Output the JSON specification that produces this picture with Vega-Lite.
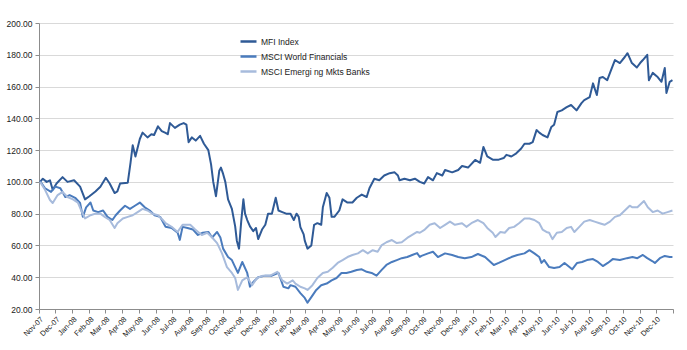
{
"$schema": "https://vega.github.io/schema/vega-lite/v6.json",
"width": 634, "height": 286,
"autosize": {"type": "none"},
"padding": {"left": 39, "top": 23, "right": 14, "bottom": 41},
"background": "white",
"config": {"view": {"stroke": null}, "font": "Liberation Sans"},
"data": {"values": [
{"s":"MFI Index","d":"2007-11-03","v":100},{"s":"MFI Index","d":"2007-11-08","v":102},{"s":"MFI Index","d":"2007-11-15","v":100},{"s":"MFI Index","d":"2007-11-21","v":101},{"s":"MFI Index","d":"2007-11-26","v":95},{"s":"MFI Index","d":"2007-12-03","v":99},{"s":"MFI Index","d":"2007-12-14","v":103},{"s":"MFI Index","d":"2007-12-23","v":100},{"s":"MFI Index","d":"2008-01-04","v":101},{"s":"MFI Index","d":"2008-01-15","v":97},{"s":"MFI Index","d":"2008-01-24","v":89},{"s":"MFI Index","d":"2008-02-01","v":91},{"s":"MFI Index","d":"2008-02-12","v":94},{"s":"MFI Index","d":"2008-02-21","v":97},{"s":"MFI Index","d":"2008-03-02","v":102.6},{"s":"MFI Index","d":"2008-03-09","v":99},{"s":"MFI Index","d":"2008-03-18","v":93},{"s":"MFI Index","d":"2008-03-23","v":94},{"s":"MFI Index","d":"2008-03-28","v":99},{"s":"MFI Index","d":"2008-04-11","v":99.5},{"s":"MFI Index","d":"2008-04-16","v":112},{"s":"MFI Index","d":"2008-04-20","v":123},{"s":"MFI Index","d":"2008-04-25","v":116},{"s":"MFI Index","d":"2008-05-03","v":127},{"s":"MFI Index","d":"2008-05-08","v":131},{"s":"MFI Index","d":"2008-05-17","v":128},{"s":"MFI Index","d":"2008-05-24","v":130},{"s":"MFI Index","d":"2008-05-29","v":129.5},{"s":"MFI Index","d":"2008-06-05","v":135},{"s":"MFI Index","d":"2008-06-12","v":132},{"s":"MFI Index","d":"2008-06-18","v":131},{"s":"MFI Index","d":"2008-06-23","v":130},{"s":"MFI Index","d":"2008-06-27","v":137},{"s":"MFI Index","d":"2008-07-06","v":134},{"s":"MFI Index","d":"2008-07-15","v":136},{"s":"MFI Index","d":"2008-07-22","v":137},{"s":"MFI Index","d":"2008-07-27","v":136},{"s":"MFI Index","d":"2008-07-31","v":125},{"s":"MFI Index","d":"2008-08-06","v":128},{"s":"MFI Index","d":"2008-08-13","v":126},{"s":"MFI Index","d":"2008-08-21","v":129},{"s":"MFI Index","d":"2008-08-28","v":124},{"s":"MFI Index","d":"2008-09-05","v":120},{"s":"MFI Index","d":"2008-09-10","v":111},{"s":"MFI Index","d":"2008-09-14","v":100},{"s":"MFI Index","d":"2008-09-19","v":91},{"s":"MFI Index","d":"2008-09-25","v":107},{"s":"MFI Index","d":"2008-09-28","v":109},{"s":"MFI Index","d":"2008-10-02","v":105},{"s":"MFI Index","d":"2008-10-06","v":100},{"s":"MFI Index","d":"2008-10-11","v":89},{"s":"MFI Index","d":"2008-10-18","v":83},{"s":"MFI Index","d":"2008-10-24","v":72},{"s":"MFI Index","d":"2008-10-27","v":63},{"s":"MFI Index","d":"2008-10-31","v":58},{"s":"MFI Index","d":"2008-11-04","v":75},{"s":"MFI Index","d":"2008-11-08","v":89},{"s":"MFI Index","d":"2008-11-11","v":80},{"s":"MFI Index","d":"2008-11-15","v":76},{"s":"MFI Index","d":"2008-11-20","v":72},{"s":"MFI Index","d":"2008-11-26","v":69},{"s":"MFI Index","d":"2008-12-01","v":71},{"s":"MFI Index","d":"2008-12-05","v":64},{"s":"MFI Index","d":"2008-12-12","v":70},{"s":"MFI Index","d":"2008-12-18","v":73},{"s":"MFI Index","d":"2008-12-23","v":80},{"s":"MFI Index","d":"2008-12-30","v":80},{"s":"MFI Index","d":"2009-01-06","v":90},{"s":"MFI Index","d":"2009-01-11","v":82},{"s":"MFI Index","d":"2009-01-18","v":81},{"s":"MFI Index","d":"2009-01-25","v":80},{"s":"MFI Index","d":"2009-02-02","v":80},{"s":"MFI Index","d":"2009-02-08","v":76},{"s":"MFI Index","d":"2009-02-13","v":80},{"s":"MFI Index","d":"2009-02-17","v":78},{"s":"MFI Index","d":"2009-02-20","v":71.5},{"s":"MFI Index","d":"2009-02-26","v":67},{"s":"MFI Index","d":"2009-02-28","v":63},{"s":"MFI Index","d":"2009-03-05","v":58},{"s":"MFI Index","d":"2009-03-12","v":60},{"s":"MFI Index","d":"2009-03-17","v":73},{"s":"MFI Index","d":"2009-03-23","v":74},{"s":"MFI Index","d":"2009-03-30","v":73},{"s":"MFI Index","d":"2009-04-02","v":84},{"s":"MFI Index","d":"2009-04-09","v":93},{"s":"MFI Index","d":"2009-04-14","v":90},{"s":"MFI Index","d":"2009-04-18","v":78},{"s":"MFI Index","d":"2009-04-23","v":78},{"s":"MFI Index","d":"2009-05-02","v":82},{"s":"MFI Index","d":"2009-05-08","v":89},{"s":"MFI Index","d":"2009-05-17","v":87},{"s":"MFI Index","d":"2009-05-26","v":87},{"s":"MFI Index","d":"2009-06-03","v":90},{"s":"MFI Index","d":"2009-06-12","v":92},{"s":"MFI Index","d":"2009-06-21","v":90.5},{"s":"MFI Index","d":"2009-06-26","v":96},{"s":"MFI Index","d":"2009-07-05","v":102},{"s":"MFI Index","d":"2009-07-14","v":101},{"s":"MFI Index","d":"2009-07-23","v":104},{"s":"MFI Index","d":"2009-08-02","v":105.5},{"s":"MFI Index","d":"2009-08-11","v":106},{"s":"MFI Index","d":"2009-08-17","v":104},{"s":"MFI Index","d":"2009-08-20","v":101},{"s":"MFI Index","d":"2009-08-29","v":102},{"s":"MFI Index","d":"2009-09-08","v":101},{"s":"MFI Index","d":"2009-09-17","v":102},{"s":"MFI Index","d":"2009-09-26","v":100},{"s":"MFI Index","d":"2009-10-04","v":99},{"s":"MFI Index","d":"2009-10-11","v":103},{"s":"MFI Index","d":"2009-10-20","v":101},{"s":"MFI Index","d":"2009-10-27","v":105.5},{"s":"MFI Index","d":"2009-11-06","v":104},{"s":"MFI Index","d":"2009-11-11","v":107.5},{"s":"MFI Index","d":"2009-11-24","v":106},{"s":"MFI Index","d":"2009-12-05","v":107.5},{"s":"MFI Index","d":"2009-12-12","v":110},{"s":"MFI Index","d":"2009-12-23","v":109},{"s":"MFI Index","d":"2010-01-05","v":113.8},{"s":"MFI Index","d":"2010-01-14","v":112},{"s":"MFI Index","d":"2010-01-20","v":122},{"s":"MFI Index","d":"2010-01-27","v":116},{"s":"MFI Index","d":"2010-02-06","v":114},{"s":"MFI Index","d":"2010-02-17","v":114},{"s":"MFI Index","d":"2010-02-26","v":115},{"s":"MFI Index","d":"2010-03-03","v":117},{"s":"MFI Index","d":"2010-03-12","v":116},{"s":"MFI Index","d":"2010-03-21","v":118},{"s":"MFI Index","d":"2010-03-30","v":121},{"s":"MFI Index","d":"2010-04-05","v":124},{"s":"MFI Index","d":"2010-04-14","v":124},{"s":"MFI Index","d":"2010-04-20","v":125},{"s":"MFI Index","d":"2010-04-27","v":132.6},{"s":"MFI Index","d":"2010-05-02","v":131},{"s":"MFI Index","d":"2010-05-08","v":129.5},{"s":"MFI Index","d":"2010-05-17","v":128},{"s":"MFI Index","d":"2010-05-24","v":134.6},{"s":"MFI Index","d":"2010-05-29","v":136},{"s":"MFI Index","d":"2010-06-04","v":144},{"s":"MFI Index","d":"2010-06-12","v":145},{"s":"MFI Index","d":"2010-06-21","v":147},{"s":"MFI Index","d":"2010-06-29","v":148.4},{"s":"MFI Index","d":"2010-07-09","v":145},{"s":"MFI Index","d":"2010-07-18","v":149.6},{"s":"MFI Index","d":"2010-07-23","v":151.5},{"s":"MFI Index","d":"2010-08-02","v":153.4},{"s":"MFI Index","d":"2010-08-08","v":162},{"s":"MFI Index","d":"2010-08-15","v":154.7},{"s":"MFI Index","d":"2010-08-20","v":165.4},{"s":"MFI Index","d":"2010-08-26","v":166},{"s":"MFI Index","d":"2010-09-03","v":164},{"s":"MFI Index","d":"2010-09-08","v":168.6},{"s":"MFI Index","d":"2010-09-17","v":176.7},{"s":"MFI Index","d":"2010-09-26","v":174.8},{"s":"MFI Index","d":"2010-10-05","v":178.6},{"s":"MFI Index","d":"2010-10-10","v":181},{"s":"MFI Index","d":"2010-10-18","v":174.8},{"s":"MFI Index","d":"2010-10-27","v":172},{"s":"MFI Index","d":"2010-11-02","v":174.8},{"s":"MFI Index","d":"2010-11-07","v":176.7},{"s":"MFI Index","d":"2010-11-15","v":180},{"s":"MFI Index","d":"2010-11-18","v":164},{"s":"MFI Index","d":"2010-11-25","v":168.6},{"s":"MFI Index","d":"2010-12-04","v":166},{"s":"MFI Index","d":"2010-12-11","v":163},{"s":"MFI Index","d":"2010-12-17","v":171.7},{"s":"MFI Index","d":"2010-12-20","v":156},{"s":"MFI Index","d":"2010-12-26","v":163},{"s":"MFI Index","d":"2010-12-31","v":164},
{"s":"MSCI World Financials","d":"2007-11-03","v":100.5},{"s":"MSCI World Financials","d":"2007-11-12","v":96},{"s":"MSCI World Financials","d":"2007-11-23","v":93.7},{"s":"MSCI World Financials","d":"2007-12-01","v":97},{"s":"MSCI World Financials","d":"2007-12-10","v":96},{"s":"MSCI World Financials","d":"2007-12-19","v":90.5},{"s":"MSCI World Financials","d":"2007-12-27","v":91.7},{"s":"MSCI World Financials","d":"2008-01-06","v":90},{"s":"MSCI World Financials","d":"2008-01-15","v":86.7},{"s":"MSCI World Financials","d":"2008-01-20","v":78},{"s":"MSCI World Financials","d":"2008-01-26","v":84},{"s":"MSCI World Financials","d":"2008-02-03","v":87},{"s":"MSCI World Financials","d":"2008-02-08","v":82},{"s":"MSCI World Financials","d":"2008-02-17","v":81},{"s":"MSCI World Financials","d":"2008-02-26","v":82},{"s":"MSCI World Financials","d":"2008-03-05","v":78},{"s":"MSCI World Financials","d":"2008-03-14","v":76},{"s":"MSCI World Financials","d":"2008-03-20","v":79},{"s":"MSCI World Financials","d":"2008-03-28","v":82},{"s":"MSCI World Financials","d":"2008-04-06","v":85},{"s":"MSCI World Financials","d":"2008-04-15","v":83},{"s":"MSCI World Financials","d":"2008-04-24","v":85},{"s":"MSCI World Financials","d":"2008-05-03","v":87},{"s":"MSCI World Financials","d":"2008-05-12","v":84},{"s":"MSCI World Financials","d":"2008-05-21","v":82},{"s":"MSCI World Financials","d":"2008-05-30","v":79},{"s":"MSCI World Financials","d":"2008-06-09","v":78},{"s":"MSCI World Financials","d":"2008-06-19","v":71.7},{"s":"MSCI World Financials","d":"2008-06-30","v":71},{"s":"MSCI World Financials","d":"2008-07-11","v":68},{"s":"MSCI World Financials","d":"2008-07-15","v":63.5},{"s":"MSCI World Financials","d":"2008-07-20","v":71.7},{"s":"MSCI World Financials","d":"2008-07-29","v":71},{"s":"MSCI World Financials","d":"2008-08-08","v":70},{"s":"MSCI World Financials","d":"2008-08-17","v":66.6},{"s":"MSCI World Financials","d":"2008-08-26","v":68},{"s":"MSCI World Financials","d":"2008-09-05","v":68.5},{"s":"MSCI World Financials","d":"2008-09-12","v":65},{"s":"MSCI World Financials","d":"2008-09-21","v":68.5},{"s":"MSCI World Financials","d":"2008-09-27","v":65},{"s":"MSCI World Financials","d":"2008-10-02","v":58},{"s":"MSCI World Financials","d":"2008-10-11","v":52.7},{"s":"MSCI World Financials","d":"2008-10-18","v":50.8},{"s":"MSCI World Financials","d":"2008-10-24","v":46.4},{"s":"MSCI World Financials","d":"2008-10-29","v":42.7},{"s":"MSCI World Financials","d":"2008-11-06","v":49.6},{"s":"MSCI World Financials","d":"2008-11-15","v":42.7},{"s":"MSCI World Financials","d":"2008-11-20","v":34},{"s":"MSCI World Financials","d":"2008-11-26","v":37},{"s":"MSCI World Financials","d":"2008-12-05","v":40},{"s":"MSCI World Financials","d":"2008-12-18","v":41},{"s":"MSCI World Financials","d":"2008-12-30","v":41},{"s":"MSCI World Financials","d":"2009-01-11","v":42.7},{"s":"MSCI World Financials","d":"2009-01-20","v":34},{"s":"MSCI World Financials","d":"2009-01-29","v":33},{"s":"MSCI World Financials","d":"2009-02-02","v":35},{"s":"MSCI World Financials","d":"2009-02-11","v":34},{"s":"MSCI World Financials","d":"2009-02-20","v":30},{"s":"MSCI World Financials","d":"2009-02-28","v":27},{"s":"MSCI World Financials","d":"2009-03-05","v":24},{"s":"MSCI World Financials","d":"2009-03-12","v":27.5},{"s":"MSCI World Financials","d":"2009-03-21","v":32},{"s":"MSCI World Financials","d":"2009-03-30","v":35},{"s":"MSCI World Financials","d":"2009-04-09","v":36},{"s":"MSCI World Financials","d":"2009-04-18","v":38},{"s":"MSCI World Financials","d":"2009-04-27","v":39.5},{"s":"MSCI World Financials","d":"2009-05-06","v":42.7},{"s":"MSCI World Financials","d":"2009-05-15","v":42.7},{"s":"MSCI World Financials","d":"2009-05-24","v":43.4},{"s":"MSCI World Financials","d":"2009-06-03","v":44.5},{"s":"MSCI World Financials","d":"2009-06-12","v":45},{"s":"MSCI World Financials","d":"2009-06-21","v":43.4},{"s":"MSCI World Financials","d":"2009-06-30","v":42.7},{"s":"MSCI World Financials","d":"2009-07-09","v":41},{"s":"MSCI World Financials","d":"2009-07-18","v":44.5},{"s":"MSCI World Financials","d":"2009-07-27","v":47.7},{"s":"MSCI World Financials","d":"2009-08-06","v":49.6},{"s":"MSCI World Financials","d":"2009-08-15","v":50.8},{"s":"MSCI World Financials","d":"2009-08-24","v":52},{"s":"MSCI World Financials","d":"2009-09-03","v":52.7},{"s":"MSCI World Financials","d":"2009-09-12","v":54},{"s":"MSCI World Financials","d":"2009-09-21","v":55.2},{"s":"MSCI World Financials","d":"2009-09-26","v":52.7},{"s":"MSCI World Financials","d":"2009-09-29","v":53.4},{"s":"MSCI World Financials","d":"2009-10-11","v":55},{"s":"MSCI World Financials","d":"2009-10-20","v":56},{"s":"MSCI World Financials","d":"2009-10-29","v":52.7},{"s":"MSCI World Financials","d":"2009-11-11","v":55},{"s":"MSCI World Financials","d":"2009-11-24","v":54},{"s":"MSCI World Financials","d":"2009-12-05","v":52.7},{"s":"MSCI World Financials","d":"2009-12-17","v":52},{"s":"MSCI World Financials","d":"2009-12-29","v":52.7},{"s":"MSCI World Financials","d":"2010-01-10","v":54.6},{"s":"MSCI World Financials","d":"2010-01-23","v":52.7},{"s":"MSCI World Financials","d":"2010-02-02","v":49.6},{"s":"MSCI World Financials","d":"2010-02-08","v":47.7},{"s":"MSCI World Financials","d":"2010-02-17","v":49},{"s":"MSCI World Financials","d":"2010-02-28","v":50.8},{"s":"MSCI World Financials","d":"2010-03-12","v":52.7},{"s":"MSCI World Financials","d":"2010-03-23","v":54},{"s":"MSCI World Financials","d":"2010-04-05","v":55},{"s":"MSCI World Financials","d":"2010-04-14","v":57},{"s":"MSCI World Financials","d":"2010-04-23","v":55},{"s":"MSCI World Financials","d":"2010-05-02","v":52.7},{"s":"MSCI World Financials","d":"2010-05-06","v":49},{"s":"MSCI World Financials","d":"2010-05-11","v":50.8},{"s":"MSCI World Financials","d":"2010-05-20","v":46.4},{"s":"MSCI World Financials","d":"2010-05-29","v":45.8},{"s":"MSCI World Financials","d":"2010-06-08","v":46.4},{"s":"MSCI World Financials","d":"2010-06-17","v":49},{"s":"MSCI World Financials","d":"2010-06-26","v":46.4},{"s":"MSCI World Financials","d":"2010-07-01","v":45},{"s":"MSCI World Financials","d":"2010-07-10","v":49},{"s":"MSCI World Financials","d":"2010-07-19","v":49.6},{"s":"MSCI World Financials","d":"2010-07-28","v":50.8},{"s":"MSCI World Financials","d":"2010-08-08","v":51.4},{"s":"MSCI World Financials","d":"2010-08-17","v":49.6},{"s":"MSCI World Financials","d":"2010-08-26","v":47},{"s":"MSCI World Financials","d":"2010-09-04","v":49},{"s":"MSCI World Financials","d":"2010-09-13","v":51.4},{"s":"MSCI World Financials","d":"2010-09-26","v":50.8},{"s":"MSCI World Financials","d":"2010-10-09","v":52},{"s":"MSCI World Financials","d":"2010-10-19","v":52.7},{"s":"MSCI World Financials","d":"2010-10-28","v":52},{"s":"MSCI World Financials","d":"2010-11-07","v":54},{"s":"MSCI World Financials","d":"2010-11-15","v":52},{"s":"MSCI World Financials","d":"2010-11-24","v":50.2},{"s":"MSCI World Financials","d":"2010-11-29","v":49},{"s":"MSCI World Financials","d":"2010-12-08","v":52},{"s":"MSCI World Financials","d":"2010-12-17","v":53.4},{"s":"MSCI World Financials","d":"2010-12-26","v":52.7},{"s":"MSCI World Financials","d":"2010-12-31","v":52.7},
{"s":"MSCI Emergi ng Mkts Banks","d":"2007-11-03","v":100},{"s":"MSCI Emergi ng Mkts Banks","d":"2007-11-12","v":95},{"s":"MSCI Emergi ng Mkts Banks","d":"2007-11-21","v":88.6},{"s":"MSCI Emergi ng Mkts Banks","d":"2007-11-26","v":86.7},{"s":"MSCI Emergi ng Mkts Banks","d":"2007-12-05","v":91.7},{"s":"MSCI Emergi ng Mkts Banks","d":"2007-12-14","v":93.7},{"s":"MSCI Emergi ng Mkts Banks","d":"2007-12-23","v":90.5},{"s":"MSCI Emergi ng Mkts Banks","d":"2008-01-02","v":89},{"s":"MSCI Emergi ng Mkts Banks","d":"2008-01-11","v":87},{"s":"MSCI Emergi ng Mkts Banks","d":"2008-01-17","v":82},{"s":"MSCI Emergi ng Mkts Banks","d":"2008-01-24","v":77},{"s":"MSCI Emergi ng Mkts Banks","d":"2008-02-03","v":79},{"s":"MSCI Emergi ng Mkts Banks","d":"2008-02-12","v":80},{"s":"MSCI Emergi ng Mkts Banks","d":"2008-02-21","v":80},{"s":"MSCI Emergi ng Mkts Banks","d":"2008-02-29","v":78},{"s":"MSCI Emergi ng Mkts Banks","d":"2008-03-09","v":76},{"s":"MSCI Emergi ng Mkts Banks","d":"2008-03-18","v":71},{"s":"MSCI Emergi ng Mkts Banks","d":"2008-03-23","v":74},{"s":"MSCI Emergi ng Mkts Banks","d":"2008-04-02","v":77},{"s":"MSCI Emergi ng Mkts Banks","d":"2008-04-11","v":78},{"s":"MSCI Emergi ng Mkts Banks","d":"2008-04-20","v":79},{"s":"MSCI Emergi ng Mkts Banks","d":"2008-04-29","v":81},{"s":"MSCI Emergi ng Mkts Banks","d":"2008-05-08","v":83},{"s":"MSCI Emergi ng Mkts Banks","d":"2008-05-17","v":82},{"s":"MSCI Emergi ng Mkts Banks","d":"2008-05-26","v":80},{"s":"MSCI Emergi ng Mkts Banks","d":"2008-06-05","v":79},{"s":"MSCI Emergi ng Mkts Banks","d":"2008-06-14","v":76},{"s":"MSCI Emergi ng Mkts Banks","d":"2008-06-19","v":74},{"s":"MSCI Emergi ng Mkts Banks","d":"2008-06-30","v":71.7},{"s":"MSCI Emergi ng Mkts Banks","d":"2008-07-11","v":68.5},{"s":"MSCI Emergi ng Mkts Banks","d":"2008-07-20","v":73},{"s":"MSCI Emergi ng Mkts Banks","d":"2008-08-03","v":73},{"s":"MSCI Emergi ng Mkts Banks","d":"2008-08-12","v":70},{"s":"MSCI Emergi ng Mkts Banks","d":"2008-08-24","v":66.6},{"s":"MSCI Emergi ng Mkts Banks","d":"2008-09-03","v":68},{"s":"MSCI Emergi ng Mkts Banks","d":"2008-09-12","v":65},{"s":"MSCI Emergi ng Mkts Banks","d":"2008-09-21","v":61.5},{"s":"MSCI Emergi ng Mkts Banks","d":"2008-09-30","v":55},{"s":"MSCI Emergi ng Mkts Banks","d":"2008-10-09","v":46.4},{"s":"MSCI Emergi ng Mkts Banks","d":"2008-10-18","v":42.7},{"s":"MSCI Emergi ng Mkts Banks","d":"2008-10-24","v":39.5},{"s":"MSCI Emergi ng Mkts Banks","d":"2008-10-29","v":32},{"s":"MSCI Emergi ng Mkts Banks","d":"2008-11-06","v":38},{"s":"MSCI Emergi ng Mkts Banks","d":"2008-11-15","v":40},{"s":"MSCI Emergi ng Mkts Banks","d":"2008-11-24","v":35},{"s":"MSCI Emergi ng Mkts Banks","d":"2008-12-03","v":39.5},{"s":"MSCI Emergi ng Mkts Banks","d":"2008-12-14","v":41},{"s":"MSCI Emergi ng Mkts Banks","d":"2008-12-27","v":41},{"s":"MSCI Emergi ng Mkts Banks","d":"2009-01-09","v":43.4},{"s":"MSCI Emergi ng Mkts Banks","d":"2009-01-18","v":38},{"s":"MSCI Emergi ng Mkts Banks","d":"2009-01-27","v":36},{"s":"MSCI Emergi ng Mkts Banks","d":"2009-02-06","v":38},{"s":"MSCI Emergi ng Mkts Banks","d":"2009-02-11","v":36},{"s":"MSCI Emergi ng Mkts Banks","d":"2009-02-20","v":34},{"s":"MSCI Emergi ng Mkts Banks","d":"2009-02-28","v":33},{"s":"MSCI Emergi ng Mkts Banks","d":"2009-03-05","v":32},{"s":"MSCI Emergi ng Mkts Banks","d":"2009-03-14","v":35},{"s":"MSCI Emergi ng Mkts Banks","d":"2009-03-23","v":39.5},{"s":"MSCI Emergi ng Mkts Banks","d":"2009-04-02","v":42.7},{"s":"MSCI Emergi ng Mkts Banks","d":"2009-04-11","v":43.4},{"s":"MSCI Emergi ng Mkts Banks","d":"2009-04-20","v":46},{"s":"MSCI Emergi ng Mkts Banks","d":"2009-04-29","v":49},{"s":"MSCI Emergi ng Mkts Banks","d":"2009-05-08","v":50.8},{"s":"MSCI Emergi ng Mkts Banks","d":"2009-05-17","v":52.7},{"s":"MSCI Emergi ng Mkts Banks","d":"2009-05-26","v":54},{"s":"MSCI Emergi ng Mkts Banks","d":"2009-06-05","v":55},{"s":"MSCI Emergi ng Mkts Banks","d":"2009-06-14","v":57},{"s":"MSCI Emergi ng Mkts Banks","d":"2009-06-23","v":55},{"s":"MSCI Emergi ng Mkts Banks","d":"2009-07-02","v":57},{"s":"MSCI Emergi ng Mkts Banks","d":"2009-07-11","v":56},{"s":"MSCI Emergi ng Mkts Banks","d":"2009-07-18","v":60},{"s":"MSCI Emergi ng Mkts Banks","d":"2009-07-27","v":62},{"s":"MSCI Emergi ng Mkts Banks","d":"2009-08-06","v":63.4},{"s":"MSCI Emergi ng Mkts Banks","d":"2009-08-15","v":61.5},{"s":"MSCI Emergi ng Mkts Banks","d":"2009-08-24","v":62},{"s":"MSCI Emergi ng Mkts Banks","d":"2009-09-03","v":64.7},{"s":"MSCI Emergi ng Mkts Banks","d":"2009-09-12","v":66.6},{"s":"MSCI Emergi ng Mkts Banks","d":"2009-09-21","v":68.5},{"s":"MSCI Emergi ng Mkts Banks","d":"2009-09-26","v":68},{"s":"MSCI Emergi ng Mkts Banks","d":"2009-10-05","v":70},{"s":"MSCI Emergi ng Mkts Banks","d":"2009-10-14","v":73},{"s":"MSCI Emergi ng Mkts Banks","d":"2009-10-23","v":74},{"s":"MSCI Emergi ng Mkts Banks","d":"2009-11-02","v":71},{"s":"MSCI Emergi ng Mkts Banks","d":"2009-11-11","v":73},{"s":"MSCI Emergi ng Mkts Banks","d":"2009-11-20","v":75},{"s":"MSCI Emergi ng Mkts Banks","d":"2009-11-29","v":73},{"s":"MSCI Emergi ng Mkts Banks","d":"2009-12-12","v":74},{"s":"MSCI Emergi ng Mkts Banks","d":"2009-12-20","v":71.7},{"s":"MSCI Emergi ng Mkts Banks","d":"2009-12-29","v":74},{"s":"MSCI Emergi ng Mkts Banks","d":"2010-01-10","v":76},{"s":"MSCI Emergi ng Mkts Banks","d":"2010-01-20","v":74},{"s":"MSCI Emergi ng Mkts Banks","d":"2010-01-27","v":71},{"s":"MSCI Emergi ng Mkts Banks","d":"2010-02-06","v":68},{"s":"MSCI Emergi ng Mkts Banks","d":"2010-02-11","v":65.3},{"s":"MSCI Emergi ng Mkts Banks","d":"2010-02-20","v":68.5},{"s":"MSCI Emergi ng Mkts Banks","d":"2010-02-28","v":68},{"s":"MSCI Emergi ng Mkts Banks","d":"2010-03-08","v":71},{"s":"MSCI Emergi ng Mkts Banks","d":"2010-03-17","v":71.7},{"s":"MSCI Emergi ng Mkts Banks","d":"2010-03-26","v":74},{"s":"MSCI Emergi ng Mkts Banks","d":"2010-04-05","v":77},{"s":"MSCI Emergi ng Mkts Banks","d":"2010-04-14","v":77},{"s":"MSCI Emergi ng Mkts Banks","d":"2010-04-23","v":76},{"s":"MSCI Emergi ng Mkts Banks","d":"2010-05-02","v":74},{"s":"MSCI Emergi ng Mkts Banks","d":"2010-05-08","v":70},{"s":"MSCI Emergi ng Mkts Banks","d":"2010-05-15","v":68.5},{"s":"MSCI Emergi ng Mkts Banks","d":"2010-05-20","v":68},{"s":"MSCI Emergi ng Mkts Banks","d":"2010-05-26","v":64},{"s":"MSCI Emergi ng Mkts Banks","d":"2010-06-03","v":68},{"s":"MSCI Emergi ng Mkts Banks","d":"2010-06-12","v":68.5},{"s":"MSCI Emergi ng Mkts Banks","d":"2010-06-21","v":71},{"s":"MSCI Emergi ng Mkts Banks","d":"2010-06-29","v":71.7},{"s":"MSCI Emergi ng Mkts Banks","d":"2010-07-05","v":68.5},{"s":"MSCI Emergi ng Mkts Banks","d":"2010-07-14","v":71.7},{"s":"MSCI Emergi ng Mkts Banks","d":"2010-07-23","v":75},{"s":"MSCI Emergi ng Mkts Banks","d":"2010-08-02","v":76},{"s":"MSCI Emergi ng Mkts Banks","d":"2010-08-11","v":75},{"s":"MSCI Emergi ng Mkts Banks","d":"2010-08-20","v":74},{"s":"MSCI Emergi ng Mkts Banks","d":"2010-08-29","v":73},{"s":"MSCI Emergi ng Mkts Banks","d":"2010-09-08","v":75},{"s":"MSCI Emergi ng Mkts Banks","d":"2010-09-17","v":78},{"s":"MSCI Emergi ng Mkts Banks","d":"2010-09-26","v":79},{"s":"MSCI Emergi ng Mkts Banks","d":"2010-10-05","v":82},{"s":"MSCI Emergi ng Mkts Banks","d":"2010-10-14","v":85},{"s":"MSCI Emergi ng Mkts Banks","d":"2010-10-19","v":84},{"s":"MSCI Emergi ng Mkts Banks","d":"2010-10-28","v":84},{"s":"MSCI Emergi ng Mkts Banks","d":"2010-11-09","v":88},{"s":"MSCI Emergi ng Mkts Banks","d":"2010-11-16","v":84},{"s":"MSCI Emergi ng Mkts Banks","d":"2010-11-25","v":81},{"s":"MSCI Emergi ng Mkts Banks","d":"2010-12-04","v":82},{"s":"MSCI Emergi ng Mkts Banks","d":"2010-12-13","v":80},{"s":"MSCI Emergi ng Mkts Banks","d":"2010-12-22","v":81},{"s":"MSCI Emergi ng Mkts Banks","d":"2010-12-31","v":82}
]},
"mark": {"type": "line", "strokeWidth": 2, "strokeJoin": "round"},
"encoding": {
  "x": {"field": "d", "type": "temporal",
    "scale": {"type": "utc", "domain": [{"year": 2007, "month": 11, "date": 1, "utc": true}, {"year": 2011, "month": 1, "date": 1, "utc": true}], "nice": false},
    "axis": {"title": null, "grid": false, "tickCount": {"interval": "month", "step": 1},
      "labelExpr": "utcyear(datum.value) >= 2011 ? '' : utcFormat(datum.value, '%b-%y')",
      "labelAngle": -45, "labelAlign": "right", "labelBaseline": "top", "labelOverlap": false,
      "labelFontSize": 7.5, "labelColor": "#222222", "labelPadding": 2,
      "domainColor": "#8c8c8c", "tickColor": "#8c8c8c", "tickSize": 4}},
  "y": {"field": "v", "type": "quantitative",
    "scale": {"domain": [20, 200], "nice": false, "zero": false},
    "axis": {"title": null, "values": [20, 40, 60, 80, 100, 120, 140, 160, 180, 200], "format": ".2f",
      "grid": true, "gridColor": "#d9d9d9", "gridWidth": 1,
      "labelFontSize": 8.5, "labelColor": "#222222", "labelPadding": 3,
      "domainColor": "#8c8c8c", "tickColor": "#8c8c8c", "tickSize": 4}},
  "color": {"field": "s", "type": "nominal",
    "scale": {"domain": ["MFI Index", "MSCI World Financials", "MSCI Emergi ng Mkts Banks"], "range": ["#2f5a96", "#4a7bbd", "#a7bbdc"]},
    "legend": {"orient": "none", "legendX": 200, "legendY": 9, "title": null, "labelFontSize": 8.5, "labelColor": "#222222",
      "symbolType": "stroke", "symbolStrokeWidth": 2.5, "symbolSize": 256, "rowPadding": -2, "labelOffset": 3}}
}
}
